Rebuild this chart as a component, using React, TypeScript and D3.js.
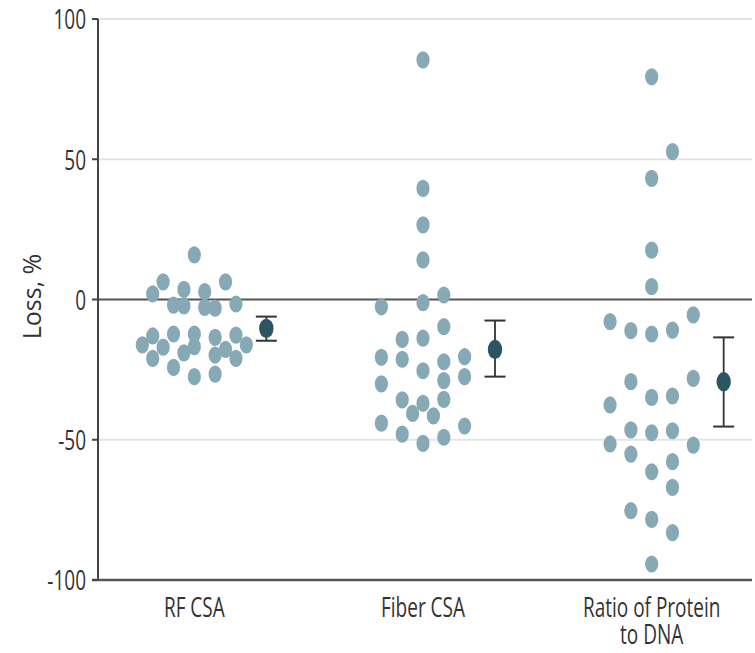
import React from "react";
import * as d3 from "d3";

const categories = ["RF CSA", "Fiber CSA", "Ratio of Protein\nto DNA"];

// individual values (%), and swarm slot index for each point
const rfValues = [15.9, 6.3, 6.3, 2.0, 3.6, 2.8, -2.0, -2.3, -2.8, -3.1, -1.6, -16.2, -13.0, -17.0, -12.3, -12.3, -16.8, -19.0, -13.5, -19.8, -17.8, -12.7, -21.0, -16.2, -21.0, -24.2, -27.5, -26.6];
const rfSlots = [0, -3, 3, -4, -1, 1, -2, -1, 1, 2, 4, -5, -4, -3, -2, 0, 0, -1, 2, 2, 3, 4, 4, 5, -4, -2, 0, 2];

const fiberValues = [85.4, 39.6, 26.6, 14.1, -2.6, -1.1, 1.6, -9.7, -14.2, -13.8, -20.6, -21.3, -25.4, -22.2, -20.4, -28.9, -27.5, -30.1, -35.8, -37.0, -35.6, -40.6, -41.5, -44.1, -45.1, -48.0, -51.3, -49.1];
const fiberSlots = [0, 0, 0, 0, -4, 0, 2, 2, -2, 0, -4, -2, 0, 2, 4, 2, 4, -4, -2, 0, 2, -1, 1, -4, 4, -2, 0, 2];

const ratioValues = [79.4, 52.7, 43.2, 17.6, 4.6, -7.9, -11.1, -12.3, -10.9, -5.5, -29.3, -34.9, -34.4, -28.1, -37.6, -46.5, -47.5, -46.8, -51.5, -51.9, -55.1, -57.8, -61.4, -67.0, -75.3, -78.4, -83.1, -94.3];
const ratioSlots = [0, 2, 0, 0, 0, -4, -2, 0, 2, 4, -2, 0, 2, 4, -4, -2, 0, 2, -4, 4, -2, 2, 0, 2, -2, 0, 2, 0];

const means = [-10.3, -17.8, -29.3];
const ciLow = [-14.7, -27.5, -45.3];
const ciHigh = [-6.1, -7.5, -13.5];

const yTicks = [100, 50, 0, -50, -100];

const W = 755;
const H = 653;
const plotLeft = 98;
const plotRight = 752;
const plotTop = 19;
const plotBottom = 580;
const slotStep = 10.4;
const meanOffset = 72;
const VS = 1.42; // vertical stretch of the reference glyphs
const FONT = "'Open Sans', 'Liberation Sans', sans-serif";
const TEXT = "#333";
const DOT = "#87a9b5";
const MEAN = "#2c5564";

export default function App() {
  const y = d3.scaleLinear().domain([-100, 100]).range([plotBottom, plotTop]);
  const x = d3.scalePoint<string>().domain(categories).range([96, 750]).padding(0.43);

  const groups = [
    { values: rfValues, slots: rfSlots },
    { values: fiberValues, slots: fiberSlots },
    { values: ratioValues, slots: ratioSlots },
  ];

  return (
    <svg width={W} height={H} style={{ position: "absolute", left: 0, top: 0, background: "#fff" }}>
      {/* gridlines */}
      {yTicks.filter((t) => t !== 0 && t !== -100).map((t) => (
        <line key={"g" + t} x1={plotLeft} x2={plotRight} y1={y(t)} y2={y(t)} stroke="#e4e4e4" strokeWidth={2} />
      ))}
      {/* zero line */}
      <line x1={plotLeft} x2={plotRight} y1={y(0)} y2={y(0)} stroke="#555" strokeWidth={2} />
      {/* axes */}
      <line x1={plotLeft} x2={plotLeft} y1={plotTop} y2={plotBottom} stroke="#444" strokeWidth={2} />
      <line x1={plotLeft - 6} x2={plotRight} y1={plotBottom} y2={plotBottom} stroke="#555" strokeWidth={2.5} />
      {yTicks.map((t) => (
        <g key={"t" + t}>
          <line x1={plotLeft - 6} x2={plotLeft} y1={y(t)} y2={y(t)} stroke="#444" strokeWidth={2} />
          <text
            transform={`translate(${plotLeft - 12},${y(t)}) scale(1,${VS})`}
            textAnchor="end"
            dominantBaseline="central"
            fontFamily={FONT}
            fontSize={19}
            fill={TEXT}
          >
            {t}
          </text>
        </g>
      ))}
      <text
        transform={`translate(41,${(plotTop + plotBottom) / 2 - 3}) rotate(-90) scale(1.25,1.3)`}
        textAnchor="middle"
        fontFamily={FONT}
        fontSize={20}
        fill={TEXT}
      >
        Loss, %
      </text>
      {/* category labels */}
      {categories.map((c) => (
        <g key={c}>
          {c.split("\n").map((line, i) => (
            <text
              key={i}
              transform={`translate(${x(c)},${616.5 + i * 27.5}) scale(1,${VS})`}
              textAnchor="middle"
              fontFamily={FONT}
              fontSize={19}
              fill={TEXT}
            >
              {line}
            </text>
          ))}
        </g>
      ))}
      {/* points */}
      {groups.map((g, gi) =>
        g.values.map((v, i) => (
          <ellipse
            key={gi + "-" + i}
            cx={(x(categories[gi]) as number) + g.slots[i] * slotStep}
            cy={y(v)}
            rx={6.6}
            ry={8.6}
            fill={DOT}
          />
        ))
      )}
      {/* means with error bars */}
      {means.map((m, i) => {
        const cx = (x(categories[i]) as number) + meanOffset;
        return (
          <g key={"m" + i}>
            <line x1={cx} x2={cx} y1={y(ciHigh[i])} y2={y(ciLow[i])} stroke="#333" strokeWidth={1.8} />
            <line x1={cx - 10.5} x2={cx + 10.5} y1={y(ciHigh[i])} y2={y(ciHigh[i])} stroke="#333" strokeWidth={2} />
            <line x1={cx - 10.5} x2={cx + 10.5} y1={y(ciLow[i])} y2={y(ciLow[i])} stroke="#333" strokeWidth={2} />
            <ellipse cx={cx} cy={y(m)} rx={7.2} ry={9.6} fill={MEAN} />
          </g>
        );
      })}
    </svg>
  );
}
